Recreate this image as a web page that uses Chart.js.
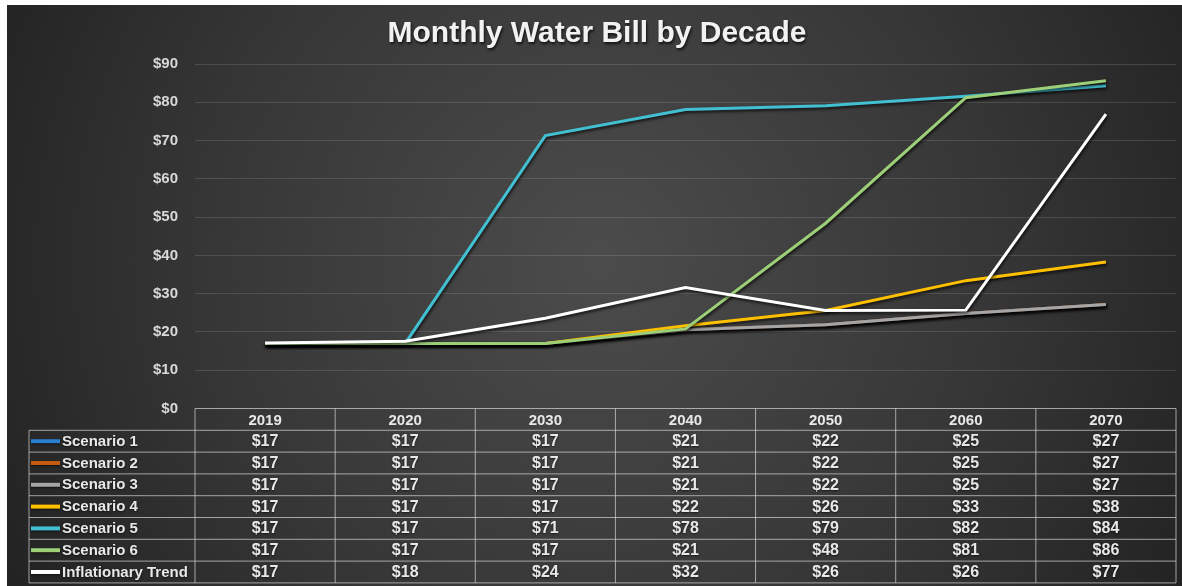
<!DOCTYPE html>
<html>
<head>
<meta charset="utf-8">
<script src="https://cdn.jsdelivr.net/npm/chart.js@4.4.1/dist/chart.umd.min.js"></script>
<style>
  html, body { margin: 0; padding: 0; background: #fff; }
  #wrap { width: 1182px; height: 586px; }
</style>
</head>
<body>
<div id="wrap"><canvas id="myChart" width="1182" height="586"></canvas></div>
<script>
const years = ['2019', '2020', '2030', '2040', '2050', '2060', '2070'];
const scenario1 = [17, 17, 17, 20.6, 21.9, 24.8, 27.2];
const scenario2 = [17, 17, 17, 20.6, 21.9, 24.8, 27.2];
const scenario3 = [17, 17, 17, 20.6, 21.9, 24.8, 27.2];
const scenario4 = [17, 17, 17, 21.6, 25.6, 33.4, 38.3];
const scenario5 = [17, 17, 71.3, 78.1, 79.1, 81.6, 84.3];
const scenario6 = [17, 17, 17, 20.8, 48.4, 81.2, 85.6];
const inflation = [17.1, 17.6, 23.6, 31.6, 25.6, 25.7, 76.9];

const seriesNames = ['Scenario 1', 'Scenario 2', 'Scenario 3', 'Scenario 4', 'Scenario 5', 'Scenario 6', 'Inflationary Trend'];
const seriesValues = [scenario1, scenario2, scenario3, scenario4, scenario5, scenario6, inflation];
const seriesColors = ['#2a7fd0', '#c55a11', '#a5a5a5', '#ffc000', '#42c0d2', '#9ccf78', '#ffffff'];
const yTicks = [0, 10, 20, 30, 40, 50, 60, 70, 80, 90];

const FONT = '"Liberation Sans", Arial, sans-serif';
const ROW_H = 21.8;

const datasets = seriesNames.map((name, i) => ({
  label: name,
  data: seriesValues[i],
  borderColor: seriesColors[i],
  backgroundColor: seriesColors[i],
  borderWidth: 3,
  pointRadius: 0,
  tension: 0,
  order: seriesNames.length - i, // later series drawn on top
}));

// dark gradient panel behind the chart
const background = {
  id: 'background',
  beforeDraw(chart) {
    const ctx = chart.ctx;
    ctx.save();
    ctx.fillStyle = '#ffffff';
    ctx.fillRect(0, 0, chart.width, chart.height);
    const g = ctx.createRadialGradient(600, 260, 0, 600, 260, 720);
    g.addColorStop(0, '#4c4c4c');
    g.addColorStop(0.55, '#363636');
    g.addColorStop(1, '#1f1f1f');
    ctx.fillStyle = g;
    ctx.fillRect(7, 5, chart.width - 7, chart.height - 5);

    ctx.font = 'bold 30px ' + FONT;
    ctx.textAlign = 'center';
    ctx.textBaseline = 'middle';
    ctx.shadowColor = 'rgba(0,0,0,0.75)';
    ctx.shadowOffsetX = 1;
    ctx.shadowOffsetY = 2;
    ctx.shadowBlur = 3;
    ctx.fillStyle = '#f2f2f2';
    ctx.fillText('Monthly Water Bill by Decade', 597, 34);
    ctx.restore();
  },
};

// soft shadow under the lines
const lineShadow = {
  id: 'lineShadow',
  beforeDatasetsDraw(chart) {
    const ctx = chart.ctx;
    ctx.save();
    ctx.shadowColor = 'rgba(0,0,0,0.7)';
    ctx.shadowOffsetY = 2;
    ctx.shadowOffsetX = 1;
    ctx.shadowBlur = 3;
  },
  afterDatasetsDraw(chart) {
    chart.ctx.restore();
  },
};

// data table under the x axis
const dataTable = {
  id: 'dataTable',
  afterDraw(chart) {
    const ctx = chart.ctx;
    const x = chart.scales.x;
    const area = chart.chartArea;
    const colW = (area.right - area.left) / years.length;
    const top = area.bottom;
    const headBottom = top + ROW_H;
    const bottom = headBottom + ROW_H * seriesNames.length;
    const legendLeft = 29;

    ctx.save();
    ctx.strokeStyle = 'rgba(215,215,215,0.7)';
    ctx.lineWidth = 1;
    ctx.beginPath();
    ctx.moveTo(area.left, top);
    ctx.lineTo(area.right, top);
    for (let r = 0; r <= seriesNames.length; r++) {
      const y = headBottom + r * ROW_H;
      ctx.moveTo(legendLeft, y);
      ctx.lineTo(area.right, y);
    }
    for (let c = 0; c <= years.length; c++) {
      const xx = area.left + c * colW;
      ctx.moveTo(xx, top);
      ctx.lineTo(xx, bottom);
    }
    ctx.moveTo(legendLeft, headBottom);
    ctx.lineTo(legendLeft, bottom);
    ctx.stroke();

    ctx.textBaseline = 'middle';
    ctx.shadowColor = 'rgba(0,0,0,0.6)';
    ctx.shadowOffsetY = 1;
    ctx.shadowBlur = 2;
    seriesNames.forEach((name, r) => {
      const cy = headBottom + r * ROW_H + ROW_H / 2;
      ctx.strokeStyle = seriesColors[r];
      ctx.lineWidth = 4;
      ctx.beginPath();
      ctx.moveTo(31, cy);
      ctx.lineTo(60, cy);
      ctx.stroke();
      ctx.fillStyle = '#e8e8e8';
      ctx.textAlign = 'left';
      ctx.font = 'bold 15px ' + FONT;
      ctx.fillText(name, 62, cy + 0.5);
      ctx.textAlign = 'center';
      ctx.font = 'bold 16px ' + FONT;
      seriesValues[r].forEach((v, c) => {
        ctx.fillText('$' + Math.round(v), x.getPixelForValue(c), cy + 0.5);
      });
    });
    ctx.restore();
  },
};

const config = {
  type: 'line',
  data: { labels: years, datasets },
  options: {
    responsive: false,
    animation: false,
    devicePixelRatio: 1,
    layout: { padding: { top: 64, left: 7, right: 6, bottom: 3 } },
    plugins: {
      legend: { display: false },
      title: { display: false },
      tooltip: { enabled: false },
    },
    scales: {
      x: {
        offset: true,
        grid: { display: false },
        border: { display: false },
        ticks: { color: '#e8e8e8', font: { family: FONT, size: 15, weight: 'bold' }, padding: -5, maxRotation: 0 },
        afterFit(scale) { scale.height = 174.5; },
      },
      y: {
        min: 0,
        max: 90,
        afterBuildTicks(scale) { scale.ticks = yTicks.map(v => ({ value: v })); },
        grid: {
          drawTicks: false,
          color: ctx => (ctx.tick && ctx.tick.value === 0 ? 'rgba(0,0,0,0)' : 'rgba(255,255,255,0.13)'),
        },
        border: { display: false },
        ticks: {
          color: '#d9d9d9',
          font: { family: FONT, size: 15, weight: 'bold' },
          padding: 17,
          callback: v => '$' + v,
        },
        afterFit(scale) { scale.width = 188; },
      },
    },
  },
  plugins: [background, lineShadow, dataTable],
};

const ctx = document.getElementById('myChart');
const chart = new Chart(ctx, config);
</script>
</body>
</html>
